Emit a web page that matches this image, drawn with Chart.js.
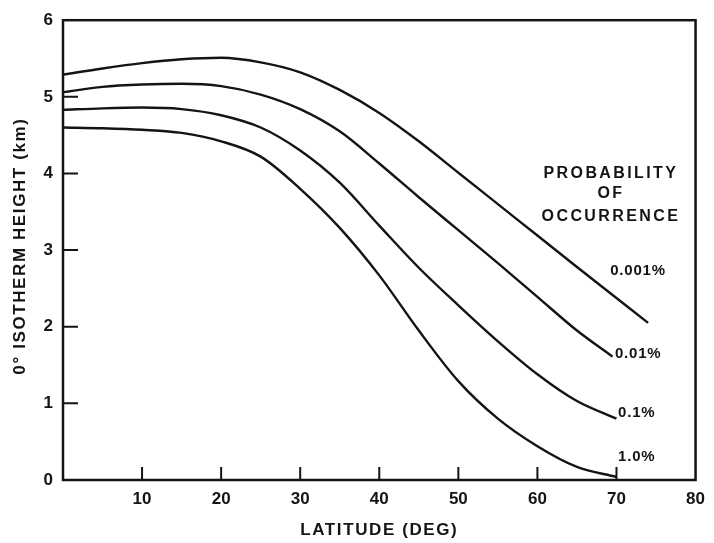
<!DOCTYPE html>
<html>
<head>
<meta charset="utf-8">
<script src="https://cdn.jsdelivr.net/npm/chart.js@4/dist/chart.umd.min.js"></script>
<style>
  html, body { margin: 0; padding: 0; background: #fff; }
  canvas { display: block; }
</style>
</head>
<body>
<canvas id="isotherm" width="714" height="543"></canvas>
<script>
// latitude steps shared by every curve, each curve then has its own end point
const latitudes = [0, 5, 10, 15, 20, 25, 30, 35, 40, 45, 50, 55, 60, 65];
const endLatitudes = [74, 69.5, 70, 70];

// 0 deg isotherm height (km) per probability of occurrence
const height0001 = [5.29, 5.37, 5.44, 5.49, 5.51, 5.45, 5.32, 5.09, 4.79, 4.42, 4.01, 3.60, 3.19, 2.78, 2.05];
const height001 = [5.06, 5.13, 5.16, 5.17, 5.14, 5.03, 4.84, 4.55, 4.13, 3.69, 3.26, 2.83, 2.39, 1.95, 1.61];
const height01 = [4.83, 4.85, 4.86, 4.84, 4.76, 4.60, 4.30, 3.88, 3.32, 2.77, 2.28, 1.81, 1.38, 1.03, 0.80];
const height1 = [4.60, 4.59, 4.57, 4.53, 4.42, 4.22, 3.80, 3.29, 2.67, 1.95, 1.29, 0.80, 0.44, 0.17, 0.04];

const seriesLabels = ['0.001%', '0.01%', '0.1%', '1.0%'];
const xTicks = [10, 20, 30, 40, 50, 60, 70, 80];
const yTicks = [0, 1, 2, 3, 4, 5, 6];

const INK = '#141414';
const FONT = "'Liberation Sans', Arial, sans-serif";

const toPoints = (heights, endLat) =>
    latitudes.concat([endLat]).map((lat, i) => ({ x: lat, y: heights[i] }));

const curves = [height0001, height001, height01, height1].map((h, i) => ({
    label: seriesLabels[i],
    data: toPoints(h, endLatitudes[i]),
    borderColor: INK,
    borderWidth: 2.4,
    pointRadius: 0,
    fill: false,
    cubicInterpolationMode: 'monotone',
}));

// frame, inward tick marks, axis titles and the text inside the plot
const framePlugin = {
    id: 'frame',
    afterDraw(chart) {
        const { ctx, chartArea: a, scales: { x, y } } = chart;
        ctx.save();
        ctx.strokeStyle = INK;
        ctx.lineWidth = 2.5;
        ctx.strokeRect(a.left, a.top, a.right - a.left, a.bottom - a.top);

        ctx.lineWidth = 2;
        ctx.beginPath();
        xTicks.filter(v => v < 80).forEach(v => {
            const px = x.getPixelForValue(v);
            ctx.moveTo(px, a.bottom);
            ctx.lineTo(px, a.bottom - 13);
        });
        yTicks.filter(v => v > 0 && v < 6).forEach(v => {
            const py = y.getPixelForValue(v);
            ctx.moveTo(a.left, py);
            ctx.lineTo(a.left + 15, py);
        });
        ctx.stroke();

        ctx.fillStyle = INK;
        ctx.textAlign = 'center';
        ctx.textBaseline = 'middle';

        // axis titles
        ctx.font = `bold 17px ${FONT}`;
        ctx.letterSpacing = '1.6px';
        ctx.fillText('LATITUDE (DEG)', (a.left + a.right) / 2, 530);
        ctx.save();
        ctx.translate(20, (a.top + a.bottom) / 2 - 4);
        ctx.rotate(-Math.PI / 2);
        ctx.fillText('0° ISOTHERM HEIGHT (km)', 0, 0);
        ctx.restore();

        ctx.font = `bold 16px ${FONT}`;
        ctx.letterSpacing = '2.4px';
        const cx = x.getPixelForValue(69.3);
        ctx.fillText('PROBABILITY', cx, y.getPixelForValue(4.0));
        ctx.fillText('OF', cx, y.getPixelForValue(3.74));
        ctx.fillText('OCCURRENCE', cx, y.getPixelForValue(3.44));

        // curve names, placed just right of where each curve stops
        ctx.font = `bold 15px ${FONT}`;
        ctx.letterSpacing = '0.8px';
        ctx.textAlign = 'left';
        const spots = [[69.2, 2.73], [69.8, 1.65], [70.2, 0.88], [70.2, 0.30]];
        seriesLabels.forEach((txt, i) => {
            ctx.fillText(txt, x.getPixelForValue(spots[i][0]), y.getPixelForValue(spots[i][1]));
        });
        ctx.restore();
    }
};

new Chart(document.getElementById('isotherm').getContext('2d'), {
    type: 'line',
    data: { datasets: curves },
    options: {
        responsive: false,
        animation: false,
        layout: {
            padding: { top: 18, right: 16, left: 0, bottom: 0 }
        },
        plugins: {
            legend: { display: false },
            tooltip: { enabled: false }
        },
        scales: {
            x: {
                type: 'linear',
                min: 0,
                max: 80,
                afterFit: (scale) => { scale.height = 63; },
                afterBuildTicks: (scale) => { scale.ticks = [0].concat(xTicks).map(v => ({ value: v })); },
                grid: { display: false, drawTicks: false },
                border: { display: false },
                ticks: {
                    color: INK,
                    padding: 9,
                    font: { family: FONT, size: 17, weight: 'bold' },
                    callback: (v) => (v === 0 ? '' : v),
                }
            },
            y: {
                type: 'linear',
                min: 0,
                max: 6,
                afterFit: (scale) => { scale.width = 63; },
                afterBuildTicks: (scale) => { scale.ticks = yTicks.map(v => ({ value: v })); },
                grid: { display: false, drawTicks: false },
                border: { display: false },
                ticks: {
                    color: INK,
                    padding: 10,
                    font: { family: FONT, size: 17, weight: 'bold' },
                }
            }
        }
    },
    plugins: [framePlugin]
});
</script>
</body>
</html>
